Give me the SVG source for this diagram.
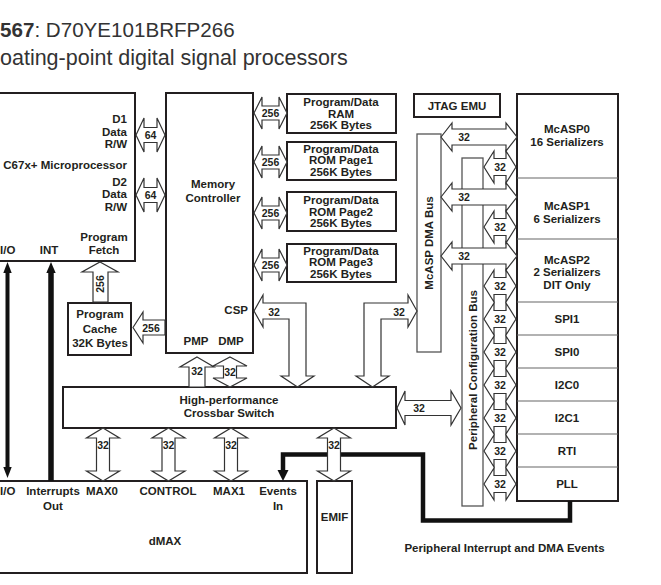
<svg xmlns="http://www.w3.org/2000/svg" width="661" height="585" viewBox="0 0 661 585">
<style>
.t{font-family:"Liberation Sans",Arial,Helvetica,sans-serif;font-weight:bold;font-size:11.5px;fill:#231f20}
.m{text-anchor:middle}
.e{text-anchor:end}
.n{font-size:10.5px}
.h{font-family:"Liberation Sans",Arial,Helvetica,sans-serif;fill:#333}
.b{fill:#fff;stroke:#231f20;stroke-width:2}
.bus{fill:#fff;stroke:#555;stroke-width:1.3}
.dv{stroke:#666;stroke-width:1.2}
.a{fill:#fff;stroke:#333;stroke-width:1.2;stroke-linejoin:miter}
.k{fill:none;stroke:#111;stroke-linejoin:miter}
.kh{fill:#111}
</style>
<rect width="661" height="585" fill="#fff"/>
<g id="title">
<text class="h" x="0" y="37" font-size="20.6"><tspan font-weight="bold">567</tspan>: D70YE101BRFP266</text>
<text class="h" x="0" y="65" font-size="21.5">oating-point digital signal processors</text>
</g>
<g id="cpu">
<rect class="b" x="-3" y="93" width="138" height="168"/>
<text class="t e" x="127" y="123">D1</text>
<text class="t e" x="127" y="135.5">Data</text>
<text class="t e" x="127" y="148">R/W</text>
<text class="t e" x="127" y="169">C67x+ Microprocessor</text>
<text class="t e" x="127" y="185.5">D2</text>
<text class="t e" x="127" y="198">Data</text>
<text class="t e" x="127" y="210.5">R/W</text>
<text class="t m" x="104" y="241">Program</text>
<text class="t m" x="104" y="254">Fetch</text>
<text class="t" x="0" y="254">I/O</text>
<text class="t m" x="49" y="254">INT</text>
</g>
<g id="memctl">
<rect class="b" x="166" y="93" width="87" height="260"/>
<text class="t m" x="213" y="188">Memory</text>
<text class="t m" x="213" y="202">Controller</text>
<text class="t e" x="248" y="314">CSP</text>
<text class="t m" x="196" y="345">PMP</text>
<text class="t m" x="231" y="345">DMP</text>
</g>
<g id="ram">
<rect class="b" x="287" y="94" width="109" height="39"/>
<text class="t m" x="341" y="106">Program/Data</text>
<text class="t m" x="341" y="117.5">RAM</text>
<text class="t m" x="341" y="129">256K Bytes</text>
</g>
<g id="rom1">
<rect class="b" x="287" y="142" width="109" height="38"/>
<text class="t m" x="341" y="152.5">Program/Data</text>
<text class="t m" x="341" y="164">ROM  Page1</text>
<text class="t m" x="341" y="175.5">256K Bytes</text>
</g>
<g id="rom2">
<rect class="b" x="287" y="192" width="109" height="39"/>
<text class="t m" x="341" y="204">Program/Data</text>
<text class="t m" x="341" y="215.5">ROM  Page2</text>
<text class="t m" x="341" y="227">256K Bytes</text>
</g>
<g id="rom3">
<rect class="b" x="287" y="244" width="109" height="38"/>
<text class="t m" x="341" y="254.5">Program/Data</text>
<text class="t m" x="341" y="266">ROM  Page3</text>
<text class="t m" x="341" y="277.5">256K Bytes</text>
</g>
<g id="cache">
<rect class="b" x="68" y="303" width="63" height="52"/>
<text class="t m" x="100" y="318">Program</text>
<text class="t m" x="100" y="332.5">Cache</text>
<text class="t m" x="100" y="347">32K Bytes</text>
</g>
<g id="jtag">
<rect class="b" x="414" y="94" width="86" height="23"/>
<text class="t m" x="457" y="110">JTAG EMU</text>
</g>
<g id="crossbar">
<rect class="b" x="63" y="387" width="333" height="41"/>
<text class="t m" x="229" y="404">High-performance</text>
<text class="t m" x="229" y="417">Crossbar Switch</text>
</g>
<g id="dmax">
<rect class="b" x="-3" y="481" width="310" height="92"/>
<text class="t" x="0" y="495">I/O</text>
<text class="t m" x="53" y="495">Interrupts</text>
<text class="t m" x="53" y="510">Out</text>
<text class="t m" x="102" y="495">MAX0</text>
<text class="t m" x="168" y="495">CONTROL</text>
<text class="t m" x="229" y="495">MAX1</text>
<text class="t m" x="278" y="495">Events</text>
<text class="t m" x="278" y="510">In</text>
<text class="t m" x="165" y="545">dMAX</text>
</g>
<g id="emif">
<rect class="b" x="317" y="481" width="35" height="92"/>
<text class="t m" x="334.5" y="521">EMIF</text>
</g>
<g id="mcaspdma">
<rect class="bus" x="417" y="134" width="24" height="218"/>
<text class="t m" transform="translate(433,243) rotate(-90)">McASP DMA Bus</text>
</g>
<g id="pcfgbus">
<rect class="bus" x="462" y="158" width="21" height="348"/>
<text class="t m" transform="translate(476.5,370) rotate(-90)">Peripheral Configuration Bus</text>
</g>
<g id="peripherals">
<rect class="b" x="517" y="94" width="101" height="407"/>
<line class="dv" x1="517" y1="178" x2="618" y2="178"/>
<line class="dv" x1="517" y1="239" x2="618" y2="239"/>
<line class="dv" x1="517" y1="302" x2="618" y2="302"/>
<line class="dv" x1="517" y1="335" x2="618" y2="335"/>
<line class="dv" x1="517" y1="368" x2="618" y2="368"/>
<line class="dv" x1="517" y1="401" x2="618" y2="401"/>
<line class="dv" x1="517" y1="434" x2="618" y2="434"/>
<line class="dv" x1="517" y1="467" x2="618" y2="467"/>
<g id="mcasp0"><text class="t m" x="567" y="133">McASP0</text><text class="t m" x="567" y="146">16 Serializers</text></g>
<g id="mcasp1"><text class="t m" x="567" y="209.5">McASP1</text><text class="t m" x="567" y="222.5">6 Serializers</text></g>
<g id="mcasp2"><text class="t m" x="567" y="263.5">McASP2</text><text class="t m" x="567" y="276">2 Serializers</text><text class="t m" x="567" y="288.5">DIT Only</text></g>
<g id="spi1"><text class="t m" x="567" y="322.5">SPI1</text></g>
<g id="spi0"><text class="t m" x="567" y="355.5">SPI0</text></g>
<g id="i2c0"><text class="t m" x="567" y="388.5">I2C0</text></g>
<g id="i2c1"><text class="t m" x="567" y="421.5">I2C1</text></g>
<g id="rti"><text class="t m" x="567" y="454.5">RTI</text></g>
<g id="pll"><text class="t m" x="567" y="487.5">PLL</text></g>
</g>
<g id="events-label">
<text class="t m" x="504.5" y="552" font-size="11.3">Peripheral Interrupt and DMA Events</text>
</g>
<g id="connectors">
<polyline class="k" stroke-width="4.5" points="570,501 570,520.5 423,520.5 423,454.5 283,454.5 283,471"/>
<polygon class="kh" points="277.5,470 288.5,470 283,481"/>
<line class="k" stroke-width="4" x1="7.5" y1="271" x2="7.5" y2="469"/>
<polygon class="kh" points="7.5,262 3.3,273 11.7,273"/>
<polygon class="kh" points="7.5,478 3.3,467 11.7,467"/>
<line class="k" stroke-width="5.5" x1="51" y1="271" x2="51" y2="481"/>
<polygon class="kh" points="51,262 46.3,273 55.7,273"/>

<polygon class="a" points="136,135 144,118 144,127.5 157,127.5 157,118 165,135 157,152 157,142.5 144,142.5 144,152"/>
<text class="t n m" x="150.5" y="139">64</text>
<polygon class="a" points="136,195 144,178 144,187.5 157,187.5 157,178 165,195 157,212 157,202.5 144,202.5 144,212"/>
<text class="t n m" x="150.5" y="199">64</text>

<polygon class="a" points="254,113 262,97 262,106 279,106 279,97 287,113 279,129 279,120 262,120 262,129"/>
<text class="t n m" x="270.5" y="117">256</text>
<polygon class="a" points="254,162 262,146 262,155 279,155 279,146 287,162 279,178 279,169 262,169 262,178"/>
<text class="t n m" x="270.5" y="166">256</text>
<polygon class="a" points="254,213 262,197 262,206 279,206 279,197 287,213 279,229 279,220 262,220 262,229"/>
<text class="t n m" x="270.5" y="217">256</text>
<polygon class="a" points="254,265 262,249 262,258 279,258 279,249 287,265 279,281 279,272 262,272 262,281"/>
<text class="t n m" x="270.5" y="269">256</text>

<polygon class="a" points="133,327.5 143,312 143,320 165,320 165,335 143,335 143,343"/>
<text class="t n m" x="151" y="331.5">256</text>
<polygon class="a" points="100,262 118,272 108,272 108,302 93,302 93,272 82,272"/>
<text class="t n m" transform="translate(104,284) rotate(-90)">256</text>

<polygon class="a" points="197,357 214,367 205,367 205,387 189,387 189,367 180,367"/>
<text class="t n m" x="197" y="374.5">32</text>
<polygon class="a" points="230,357 247,366 236.5,366 236.5,378 247,378 230,387 213,378 223.5,378 223.5,366 213,366"/>
<text class="t n m" x="230" y="375.5">32</text>

<polygon class="a" points="254,311 263,295 263,303 306,303 306,376 314,376 297.5,387 281,376 289,376 289,319 263,319 263,327"/>
<text class="t n m" x="274" y="315.5">32</text>
<polygon class="a" points="417,311 408,295 408,303 364,303 364,376 356,376 372.5,387 389,376 381,376 381,319 408,319 408,327"/>
<text class="t n m" x="399" y="315.5">32</text>

<polygon class="a" points="397,408 405,391 405,400.5 451,400.5 451,391 461,408 451,425 451,415.5 405,415.5 405,425"/>
<text class="t n m" x="419" y="412">32</text>

<polygon class="a" points="103,428 119.5,438 109.5,438 109.5,471 119.5,471 103,481 86.5,471 96.5,471 96.5,438 86.5,438"/>
<text class="t n m" x="103" y="448.5">32</text>
<polygon class="a" points="168.5,428 185,438 175,438 175,471 185,471 168.5,481 152,471 162,471 162,438 152,438"/>
<text class="t n m" x="168.5" y="448.5">32</text>
<polygon class="a" points="231,428 247.5,438 237.5,438 237.5,471 247.5,471 231,481 214.5,471 224.5,471 224.5,438 214.5,438"/>
<text class="t n m" x="231" y="448.5">32</text>
<polygon class="a" points="334,428 350.5,438 340.5,438 340.5,471 350.5,471 334,481 317.5,471 327.5,471 327.5,438 317.5,438"/>
<text class="t n m" x="334" y="448.5">32</text>

<polygon class="a" points="441,137 452,123 452,129 506,129 506,123 517,137 506,151 506,145 452,145 452,151"/>
<text class="t n m" x="464" y="141">32</text>
<polygon class="a" points="441,197 452,183 452,189 506,189 506,183 517,197 506,211 506,205 452,205 452,211"/>
<text class="t n m" x="464" y="201">32</text>
<polygon class="a" points="441,256 452,242 452,248 506,248 506,242 517,256 506,270 506,264 452,264 452,270"/>
<text class="t n m" x="464" y="260">32</text>

<polygon class="a" points="484,167 494,151 494,158.5 506,158.5 506,151 516,167 506,183 506,175.5 494,175.5 494,183"/>
<text class="t n m" x="500" y="171">32</text>
<polygon class="a" points="484,227 494,211 494,218.5 506,218.5 506,211 516,227 506,243 506,235.5 494,235.5 494,243"/>
<text class="t n m" x="500" y="231">32</text>
<polygon class="a" points="484,286 494,270 494,277.5 506,277.5 506,270 516,286 506,302 506,294.5 494,294.5 494,302"/>
<text class="t n m" x="500" y="290">32</text>
<polygon class="a" points="484,319 494,303 494,310.5 506,310.5 506,303 516,319 506,335 506,327.5 494,327.5 494,335"/>
<text class="t n m" x="500" y="323">32</text>
<polygon class="a" points="484,352 494,336 494,343.5 506,343.5 506,336 516,352 506,368 506,360.5 494,360.5 494,368"/>
<text class="t n m" x="500" y="356">32</text>
<polygon class="a" points="484,385 494,369 494,376.5 506,376.5 506,369 516,385 506,401 506,393.5 494,393.5 494,401"/>
<text class="t n m" x="500" y="389">32</text>
<polygon class="a" points="484,418 494,402 494,409.5 506,409.5 506,402 516,418 506,434 506,426.5 494,426.5 494,434"/>
<text class="t n m" x="500" y="422">32</text>
<polygon class="a" points="484,451 494,435 494,442.5 506,442.5 506,435 516,451 506,467 506,459.5 494,459.5 494,467"/>
<text class="t n m" x="500" y="455">32</text>
<polygon class="a" points="484,484 494,468 494,475.5 506,475.5 506,468 516,484 506,500 506,492.5 494,492.5 494,500"/>
<text class="t n m" x="500" y="488">32</text>
</g>
</svg>
